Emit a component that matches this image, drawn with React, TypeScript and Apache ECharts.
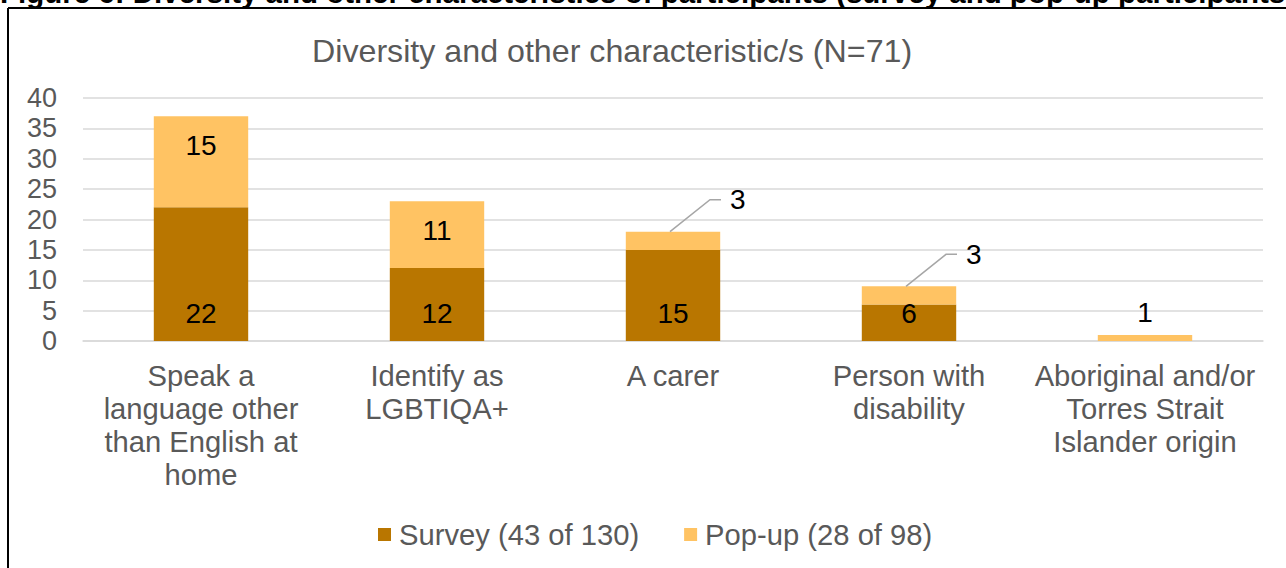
import React, { useEffect, useRef } from "react";
import * as echarts from "echarts";

const categories = [
  "Speak a\nlanguage other\nthan English at\nhome",
  "Identify as\nLGBTIQA+",
  "A carer",
  "Person with\ndisability",
  "Aboriginal and/or\nTorres Strait\nIslander origin",
];
const surveyValues = [22, 12, 15, 6, 0];
const popupValues = [15, 11, 3, 3, 1];
const seriesNames = ["Survey (43 of 130)", "Pop-up (28 of 98)"];
const yMin = 0;
const yMax = 40;
const yInterval = 5;
const chartTitle = "Diversity and other characteristic/s (N=71)";
const figureCaption =
  "Figure 6: Diversity and other characteristics of participants (survey and pop-up participants)";
const leaderIndices = [2, 3];

const FONT = "'Liberation Sans', Arial, sans-serif";
const GREY = "#595959";
const SURVEY_COLOR = "#B97600";
const POPUP_COLOR = "#FFC363";

export default function App() {
  const ref = useRef<HTMLDivElement>(null);

  useEffect(() => {
    if (!ref.current) return;
    const chart = echarts.init(ref.current, undefined, { renderer: "svg" });

    const popupData = popupValues.map((v, i) => {
      if (leaderIndices.includes(i)) {
        return { value: v, label: { show: true, position: "top" } };
      }
      if (i === popupValues.length - 1) {
        return { value: v, label: { show: true, position: "top", distance: 8 } };
      }
      return { value: v, label: { show: true, position: "insideTop", distance: 15 } };
    });

    const option: any = {
      animation: false,
      backgroundColor: "#ffffff",
      title: {
        text: chartTitle,
        left: 307,
        top: 30,
        textStyle: { fontFamily: FONT, fontSize: 32.2, fontWeight: "normal", color: GREY },
      },
      grid: { left: 83, right: 23, top: 98, bottom: 227, containLabel: false },
      legend: {
        left: 373,
        top: 515,
        icon: "rect",
        itemWidth: 13,
        itemHeight: 13,
        itemGap: 45,
        textStyle: { fontFamily: FONT, fontSize: 29.2, color: GREY, padding: [0, 0, 0, 3] },
        data: seriesNames,
      },
      xAxis: {
        type: "category",
        data: categories,
        axisLine: { show: true, lineStyle: { color: "#D9D9D9", width: 1.5 } },
        axisTick: { show: false },
        axisLabel: {
          interval: 0,
          fontFamily: FONT,
          fontSize: 29.2,
          lineHeight: 33,
          color: GREY,
          margin: 18,
        },
      },
      yAxis: {
        type: "value",
        min: yMin,
        max: yMax,
        interval: yInterval,
        axisLine: { show: false },
        axisTick: { show: false },
        splitLine: { lineStyle: { color: "#D9D9D9", width: 1.5 } },
        axisLabel: { fontFamily: FONT, fontSize: 27, color: GREY, margin: 26 },
      },
      series: [
        {
          name: seriesNames[0],
          type: "bar",
          stack: "total",
          barWidth: "40%",
          itemStyle: { color: SURVEY_COLOR },
          data: surveyValues,
          label: {
            show: true,
            position: "insideBottom",
            distance: 14,
            fontFamily: FONT,
            fontSize: 28,
            color: "#000000",
            formatter: (p: any) => (p.value === 0 ? "" : String(p.value)),
          },
        },
        {
          name: seriesNames[1],
          type: "bar",
          stack: "total",
          barWidth: "40%",
          itemStyle: { color: POPUP_COLOR },
          data: popupData,
          label: { fontFamily: FONT, fontSize: 28, color: "#000000" },
          labelLayout: (params: any) => {
            if (params.seriesIndex === 1 && leaderIndices.includes(params.dataIndex)) {
              const r = params.rect;
              const cx = r.x + r.width / 2;
              const top = Math.min(r.y, r.y + r.height);
              return { x: cx + 57, y: top - 32, align: "left", verticalAlign: "middle" };
            }
            return {};
          },
        },
      ],
    };
    chart.setOption(option);

    const graphics: any[] = [
      {
        type: "text",
        x: 0,
        y: -8,
        style: {
          text: figureCaption,
          fontFamily: FONT,
          fontSize: 29.5,
          fontWeight: "bold",
          fill: "#000000",
          verticalAlign: "middle",
        },
      },
      { type: "line", shape: { x1: 8, y1: 8, x2: 1286, y2: 8 }, style: { stroke: "#000", lineWidth: 2 } },
      { type: "line", shape: { x1: 8, y1: 8, x2: 8, y2: 568 }, style: { stroke: "#000", lineWidth: 2 } },
    ];
    leaderIndices.forEach((i) => {
      const total = surveyValues[i] + popupValues[i];
      const pt = chart.convertToPixel({ xAxisIndex: 0, yAxisIndex: 0 }, [i, total]) as number[];
      const [x, y] = pt;
      graphics.push({
        type: "polyline",
        shape: { points: [[x - 3, y], [x + 37, y - 32], [x + 48, y - 32]] },
        style: { stroke: "#A6A6A6", lineWidth: 1.5, fill: "none" },
        z: 10,
      });
    });
    chart.setOption({ graphic: graphics });

    return () => chart.dispose();
  }, []);

  return (
    <div
      ref={ref}
      style={{ position: "fixed", left: 0, top: 0, width: 1286, height: 568, background: "#fff" }}
    />
  );
}
